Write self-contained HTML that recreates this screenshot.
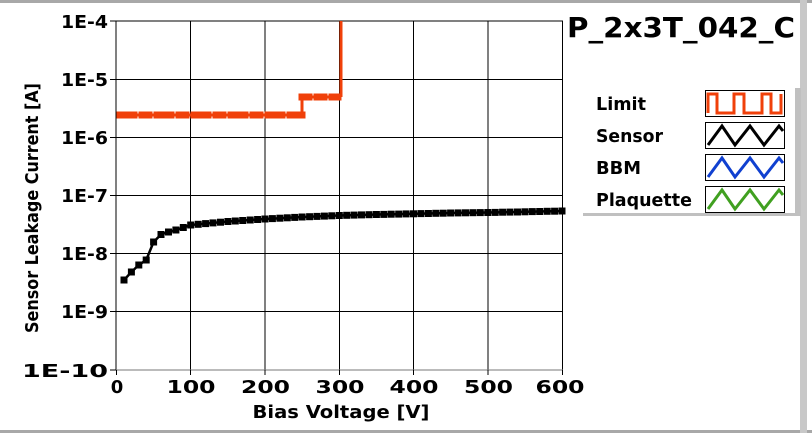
<!DOCTYPE html>
<html><head><meta charset="utf-8"><style>
body{margin:0;background:#fff;}
svg{display:block;font-family:"DejaVu Sans","Liberation Sans",sans-serif;font-weight:bold;}
</style></head><body>
<svg width="812" height="433" viewBox="0 0 812 433">
<defs>
<marker id="bk" markerUnits="userSpaceOnUse" markerWidth="8" markerHeight="8" refX="4" refY="4"><rect x="0.5" y="0.5" width="7" height="7" fill="#000"/></marker>
<marker id="rd" markerUnits="userSpaceOnUse" markerWidth="8" markerHeight="8" refX="4" refY="4"><rect x="0.5" y="0.5" width="7" height="7" fill="#f0400a"/></marker>
</defs>
<rect x="0" y="0" width="812" height="3" fill="#a8a8a8"/>
<rect x="0" y="430" width="812" height="3" fill="#a8a8a8"/>
<rect x="800" y="0" width="7" height="433" fill="#c8c8c8"/>
<g stroke="#000" stroke-width="1">
<line x1="116" y1="21" x2="563" y2="21"/><line x1="116" y1="79.5" x2="563" y2="79.5"/><line x1="116" y1="137.5" x2="563" y2="137.5"/><line x1="116" y1="195.5" x2="563" y2="195.5"/><line x1="116" y1="253.5" x2="563" y2="253.5"/><line x1="116" y1="311.5" x2="563" y2="311.5"/>
<line x1="190.5" y1="21" x2="190.5" y2="370"/><line x1="265" y1="21" x2="265" y2="370"/><line x1="339.5" y1="21" x2="339.5" y2="370"/><line x1="413.5" y1="21" x2="413.5" y2="370"/><line x1="488" y1="21" x2="488" y2="370"/><line x1="562.5" y1="21" x2="562.5" y2="370"/>
<line x1="116" y1="21" x2="116" y2="370"/>
</g>
<line x1="116" y1="370" x2="563" y2="370" stroke="#777"/>
<g stroke="#000">
<line x1="110" y1="21" x2="116" y2="21"/><line x1="110" y1="79.5" x2="116" y2="79.5"/><line x1="110" y1="137.5" x2="116" y2="137.5"/><line x1="110" y1="195.5" x2="116" y2="195.5"/><line x1="110" y1="253.5" x2="116" y2="253.5"/><line x1="110" y1="311.5" x2="116" y2="311.5"/><line x1="110" y1="370" x2="116" y2="370"/>
<line x1="116.5" y1="370" x2="116.5" y2="375"/><line x1="190.5" y1="370" x2="190.5" y2="375"/><line x1="265" y1="370" x2="265" y2="375"/><line x1="339.5" y1="370" x2="339.5" y2="375"/><line x1="413.5" y1="370" x2="413.5" y2="375"/><line x1="488" y1="370" x2="488" y2="375"/><line x1="562.5" y1="370" x2="562.5" y2="375"/>
</g>
<g font-size="18" text-anchor="end">
<text x="108" y="28" textLength="47" lengthAdjust="spacingAndGlyphs">1E-4</text><text x="108" y="86" textLength="47" lengthAdjust="spacingAndGlyphs">1E-5</text><text x="108" y="144" textLength="47" lengthAdjust="spacingAndGlyphs">1E-6</text><text x="108" y="202" textLength="47" lengthAdjust="spacingAndGlyphs">1E-7</text><text x="108" y="260" textLength="47" lengthAdjust="spacingAndGlyphs">1E-8</text><text x="108" y="318" textLength="47" lengthAdjust="spacingAndGlyphs">1E-9</text><text x="108" y="377" textLength="86" lengthAdjust="spacingAndGlyphs">1E-10</text>
</g>
<g font-size="18" text-anchor="middle">
<text x="117" y="393">0</text><text x="191" y="393" textLength="49" lengthAdjust="spacingAndGlyphs">100</text><text x="265.5" y="393" textLength="49" lengthAdjust="spacingAndGlyphs">200</text><text x="340" y="393" textLength="49" lengthAdjust="spacingAndGlyphs">300</text><text x="414" y="393" textLength="49" lengthAdjust="spacingAndGlyphs">400</text><text x="488.5" y="393" textLength="49" lengthAdjust="spacingAndGlyphs">500</text><text x="560" y="393" textLength="49" lengthAdjust="spacingAndGlyphs">600</text>
<text x="341" y="418" textLength="177" lengthAdjust="spacingAndGlyphs">Bias Voltage [V]</text>
<text transform="translate(38,208) rotate(-90)" textLength="250" lengthAdjust="spacingAndGlyphs">Sensor Leakage Current [A]</text>
</g>
<text x="567" y="37" font-size="28" textLength="228" lengthAdjust="spacingAndGlyphs">P_2x3T_042_C</text>
<polyline fill="none" stroke="#f0400a" stroke-width="3" marker-mid="url(#rd)" marker-start="url(#rd)" points="120,115 127,115 134,115 142,115 149,115 157,115 164,115 171,115 179,115 186,115 194,115 201,115 208,115 216,115 223,115 231,115 238,115 245,115 253,115 260,115 268,115 275,115 282,115 290,115 297,115 302,115 302,97 309,97 317,97 324,97 332,97 338,97 341,97"/>
<line x1="341" y1="97" x2="341" y2="21" stroke="#f0400a" stroke-width="3"/>
<polyline fill="none" stroke="#000" stroke-width="2.5" marker-start="url(#bk)" marker-mid="url(#bk)" marker-end="url(#bk)" points="124,280 131.4,272 138.8,265 146.2,260 153.6,242 161,234.5 168.5,232 175.9,230 183.3,227.5 190.7,225 198.2,224.3 205.6,223.6 213,222.9 220.5,222.2 227.9,221.5 235.3,221 242.7,220.5 250.2,220 257.6,219.5 265,219 272.4,218.6 279.9,218.2 287.3,217.8 294.7,217.4 302.1,217 309.6,216.7 317,216.4 324.4,216.1 331.8,215.8 339.3,215.5 346.7,215.3 354.1,215.1 361.5,214.9 369,214.7 376.4,214.5 383.8,214.4 391.2,214.2 398.7,214.1 406.1,213.9 413.5,213.8 420.9,213.6 428.4,213.5 435.8,213.3 443.2,213.2 450.6,213 458.1,212.9 465.5,212.8 472.9,212.7 480.3,212.6 487.8,212.5 495.2,212.4 502.6,212.2 510,212.1 517.5,212 524.9,211.8 532.3,211.6 539.7,211.5 547.2,211.3 554.6,211.2 562,211"/>
<rect x="795" y="88" width="6" height="128" fill="#c0c0c0"/>
<rect x="583" y="213" width="216" height="3" fill="#c0c0c0"/>
<g font-size="18">
<text x="596" y="110" textLength="50" lengthAdjust="spacingAndGlyphs">Limit</text><text x="596" y="142" textLength="67" lengthAdjust="spacingAndGlyphs">Sensor</text><text x="596" y="174" textLength="45" lengthAdjust="spacingAndGlyphs">BBM</text><text x="596" y="206" textLength="96" lengthAdjust="spacingAndGlyphs">Plaquette</text>
</g>
<g fill="#fff" stroke="#000">
<rect x="705.5" y="90.5" width="79" height="26"/><rect x="705.5" y="122.5" width="79" height="26"/><rect x="705.5" y="154.5" width="79" height="26"/><rect x="705.5" y="186.5" width="79" height="26"/>
</g>
<polyline fill="none" stroke="#f0400a" stroke-width="3" points="708,113 708,94 717,94 717,113 734,113 734,94 744,94 744,113 762,113 762,94 771,94 771,113 781,113 781,94"/>
<polyline fill="none" stroke="#000" stroke-width="3" points="708,145 722,126 735,145 750,126 764,145 779,126 783,131"/>
<polyline fill="none" stroke="#1040d0" stroke-width="3" points="708,177 722,158 735,177 750,158 764,177 779,158 783,163"/>
<polyline fill="none" stroke="#40a020" stroke-width="3" points="708,209 722,190 735,209 750,190 764,209 779,190 783,195"/>
</svg>
</body></html>
